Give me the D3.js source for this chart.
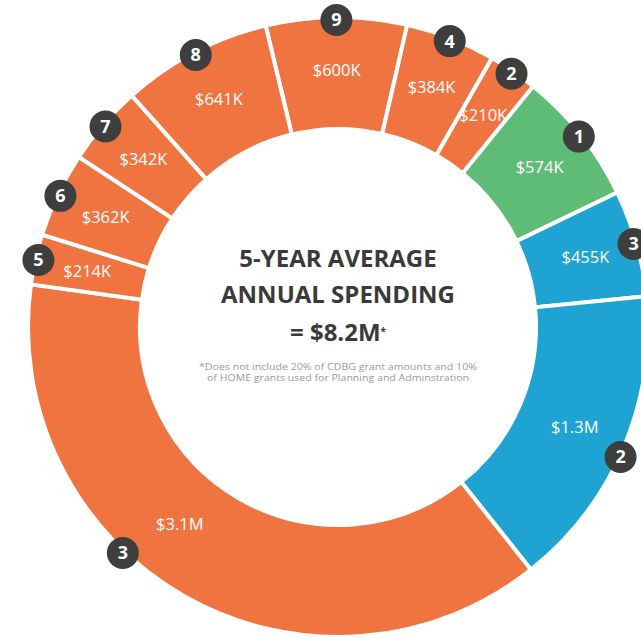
<!DOCTYPE html>
<html>
<head>
<meta charset="utf-8">
<script src="https://cdn.jsdelivr.net/npm/d3@7"></script>
<style>
  html, body { margin: 0; padding: 0; background: #fff; }
  svg { display: block; }
</style>
</head>
<body>
<div class="donut-container"></div>
<script>
// slices clockwise from the top, starting with the "9" slice
const badges = ['9', '4', '2', '1', '3', '2', '3', '5', '6', '7', '8'];
const values = [600, 384, 210, 574, 455, 1300, 3100, 214, 362, 342, 641]; // $K
const amounts = ['$600K', '$384K', '$210K', '$574K', '$455K', '$1.3M', '$3.1M', '$214K', '$362K', '$342K', '$641K'];
const groups = ['orange', 'orange', 'orange', 'green', 'blue', 'blue', 'orange', 'orange', 'orange', 'orange', 'orange'];

const titleLines = ['5-YEAR AVERAGE', 'ANNUAL SPENDING'];
const totalText = '= $8.2M';
const noteLines = ['*Does not include 20% of CDBG grant amounts and 10%', 'of HOME grants used for Planning and Adminstration'];

const W = 641, H = 638;
const cx = 338, cy = 327;
const rInner = 198, rOuter = 310;
const deg = Math.PI / 180;
const startDeg = -13.5;

// the big slice's label and badge sit off the slice middle in the original
const labelNudge = { 6: { a: 218.7, r: 253 } };
const badgeNudge = { 5: { a: 114.7, r: 311 }, 6: { a: 223.6, r: 312 } };

const color = d3.scaleOrdinal()
  .domain(['orange', 'green', 'blue'])
  .range(['#F0743F', '#5FBC76', '#1FA3D3']);

const svg = d3.select('.donut-container').append('svg')
  .attr('width', W)
  .attr('height', H);

const g = svg.append('g').attr('transform', `translate(${cx},${cy})`);

const pie = d3.pie()
  .sort(null)
  .value(d => d)
  .startAngle(startDeg * deg)
  .endAngle((startDeg + 360) * deg);

const arcs = pie(values);
const arc = d3.arc().innerRadius(rInner).outerRadius(rOuter);

g.selectAll('path.slice')
  .data(arcs)
  .enter()
  .append('path')
  .attr('class', 'slice')
  .attr('d', arc)
  .attr('fill', (d, i) => color(groups[i]))
  .attr('stroke', '#fff')
  .attr('stroke-width', 4);

const polar = (a, r) => [Math.sin(a * deg) * r, -Math.cos(a * deg) * r];
const midDeg = d => (d.startAngle + d.endAngle) / 2 / deg;

// value labels
g.selectAll('text.amount')
  .data(arcs)
  .enter()
  .append('text')
  .attr('class', 'amount')
  .attr('transform', (d, i) => {
    const n = labelNudge[i] || {};
    const p = polar(n.a !== undefined ? n.a : midDeg(d), n.r || 257);
    return `translate(${p[0]},${p[1]})`;
  })
  .attr('text-anchor', 'middle')
  .attr('dy', '0.35em')
  .style('font', '16.5px "Open Sans", sans-serif')
  .style('fill', '#fff')
  .text((d, i) => amounts[i]);

// numbered badges
const badge = g.selectAll('g.badge')
  .data(arcs)
  .enter()
  .append('g')
  .attr('class', 'badge')
  .attr('transform', (d, i) => {
    const n = badgeNudge[i] || {};
    const p = polar(n.a !== undefined ? n.a : midDeg(d), n.r || 307);
    return `translate(${p[0]},${p[1]})`;
  });

badge.append('circle')
  .attr('r', 16)
  .attr('fill', '#3E3E3E');

badge.append('text')
  .attr('text-anchor', 'middle')
  .attr('dy', '0.36em')
  .style('font', 'bold 18px "Open Sans", sans-serif')
  .style('fill', '#fff')
  .text((d, i) => badges[i]);

// centre title
const centre = g.append('g').style('fill', '#3A3A3A');

centre.selectAll('text.title')
  .data(titleLines)
  .enter()
  .append('text')
  .attr('class', 'title')
  .attr('text-anchor', 'middle')
  .attr('y', (d, i) => -68 + i * 36)
  .attr('dy', '0.35em')
  .style('font', 'bold 24px "Open Sans", sans-serif')
  .text(d => d);

const total = centre.append('text')
  .attr('text-anchor', 'middle')
  .attr('y', 6)
  .attr('dy', '0.35em')
  .style('font', 'bold 24px "Open Sans", sans-serif');
total.append('tspan').text(totalText);
total.append('tspan')
  .attr('dy', '-0.6em')
  .style('font-size', '10px')
  .text('*');

const noteWidths = [278, 262];
g.selectAll('text.note')
  .data(noteLines)
  .enter()
  .append('text')
  .attr('class', 'note')
  .attr('text-anchor', 'middle')
  .attr('y', (d, i) => 40 + i * 11)
  .attr('dy', '0.35em')
  .attr('textLength', (d, i) => noteWidths[i])
  .attr('lengthAdjust', 'spacingAndGlyphs')
  .style('font', '8.5px "Open Sans", sans-serif')
  .style('fill', '#9A9A9A')
  .text(d => d);
</script>
</body>
</html>
